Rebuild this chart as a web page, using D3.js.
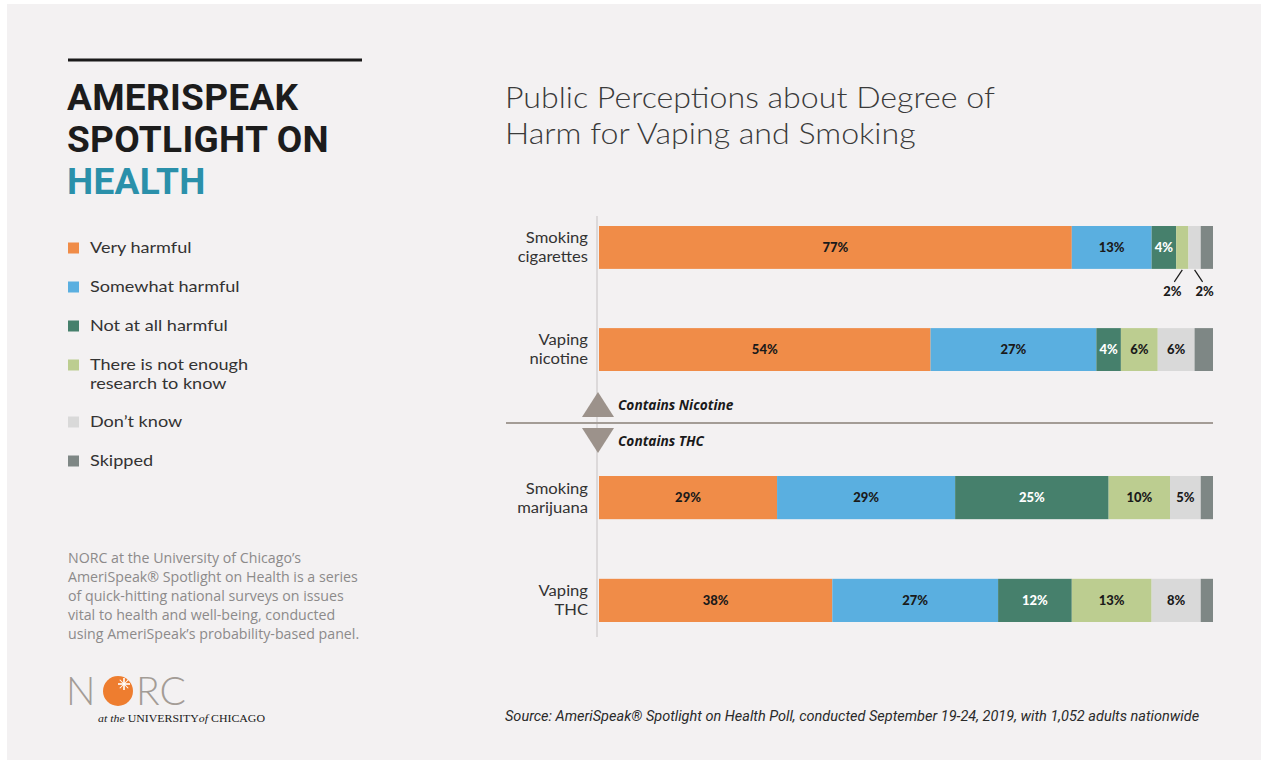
<!DOCTYPE html>
<html>
<head>
<meta charset="utf-8">
<script src="https://cdn.jsdelivr.net/npm/d3@7"></script>
<style>
  html, body { margin: 0; padding: 0; background: #ffffff; }
  svg { display: block; }
</style>
</head>
<body>
<svg id="chart" width="1261" height="760"></svg>
<script>
// ---------------- DATA ----------------
const categories = ["Smoking cigarettes", "Vaping nicotine", "Smoking marijuana", "Vaping THC"];
const categoryLines = [["Smoking", "cigarettes"], ["Vaping", "nicotine"], ["Smoking", "marijuana"], ["Vaping", "THC"]];
const categoryGroups = ["Contains Nicotine", "Contains Nicotine", "Contains THC", "Contains THC"];
const seriesNames = ["Very harmful", "Somewhat harmful", "Not at all harmful", "There is not enough research to know", "Don't know", "Skipped"];
const legendLines = [["Very harmful"], ["Somewhat harmful"], ["Not at all harmful"], ["There is not enough", "research to know"], ["Don\u2019t know"], ["Skipped"]];
const veryHarmful     = [77, 54, 29, 38];
const somewhatHarmful = [13, 27, 29, 27];
const notAtAllHarmful = [4, 4, 25, 12];
const notEnoughResearch = [2, 6, 10, 13];
const dontKnow        = [2, 6, 5, 8];
const skipped         = [2, 3, 2, 2];
const seriesColors = ["#f08c48", "#5aafe0", "#46806c", "#bccd90", "#d9d9d9", "#7e8785"];
const seriesValues = [veryHarmful, somewhatHarmful, notAtAllHarmful, notEnoughResearch, dontKnow, skipped];
const groupLabels = ["Contains Nicotine", "Contains THC"];

const title = ["Public Perceptions about Degree of", "Harm for Vaping and Smoking"];
const sideTitle = ["AMERISPEAK", "SPOTLIGHT ON", "HEALTH"];
const footnote = [
  "NORC at the University of Chicago\u2019s",
  "AmeriSpeak\u00AE Spotlight on Health is a series",
  "of quick-hitting national surveys on issues",
  "vital to health and well-being, conducted",
  "using AmeriSpeak\u2019s probability-based panel."
];
const source = "Source: AmeriSpeak\u00AE Spotlight on Health Poll, conducted September 19-24, 2019, with 1,052 adults nationwide";

// ---------------- SETUP ----------------
const svg = d3.select("#chart");
const SANS = "'Open Sans', Lato, sans-serif";
const LATO = "Lato, 'Open Sans', sans-serif";
const TEXT = "#333333";

// horizontally widened text group (wide grotesque look, compact line box)
function wideGroup(parent, x, s) {
  return parent.append("g").attr("transform", `translate(${x},0) scale(${s},1)`);
}

svg.append("rect").attr("x", 7).attr("y", 4).attr("width", 1254).attr("height", 756).attr("fill", "#f3f1f2");

// ---------- Left panel ----------
svg.append("line").attr("x1", 68).attr("x2", 362).attr("y1", 60).attr("y2", 60)
  .attr("stroke", "#1a1a1a").attr("stroke-width", 3);

svg.selectAll("text.side").data(sideTitle).join("text")
  .attr("class", "side")
  .attr("x", 67).attr("y", (d, i) => 110 + i * 42)
  .attr("font-family", "Roboto, sans-serif").attr("font-weight", 700).attr("font-size", 37)
  .attr("letter-spacing", 0.3)
  .attr("fill", (d, i) => i === 2 ? "#2a90aa" : "#1c1c1c")
  .text(d => d);

const legend = svg.append("g");
const legendY = [248, 287, 326, 365, 422, 461];
const legendText = wideGroup(svg, 90, 1.19);
legendLines.forEach((lines, i) => {
  legend.append("rect").attr("x", 68).attr("y", legendY[i] - 5.5).attr("width", 11).attr("height", 11)
    .attr("fill", seriesColors[i]);
  lines.forEach((l, j) => {
    legendText.append("text").attr("x", 0).attr("y", legendY[i] + j * 18.5).attr("dy", "0.35em")
      .attr("font-family", LATO).attr("font-size", 15.2).attr("fill", TEXT).text(l);
  });
});

const foot = svg.append("text")
  .attr("font-family", SANS).attr("font-size", 14.2).attr("fill", "#8c8a8a");
footnote.forEach((d, i) => {
  foot.append("tspan").attr("x", 68).attr("y", 558 + i * 19).attr("dy", "0.35em").text(d);
});

// NORC logo
const logo = svg.append("g");
logo.append("text").attr("x", 66).attr("y", 705)
  .attr("font-family", LATO).attr("font-weight", 300).attr("font-size", 39).attr("fill", "#a39c96").text("N");
logo.append("circle").attr("cx", 118).attr("cy", 691).attr("r", 15).attr("fill", "#ee7d2f");
const star = logo.append("g").attr("transform", "translate(124,684)");
[0, 45, 90, 135].forEach(a => {
  star.append("line").attr("x1", -6).attr("x2", 6).attr("y1", 0).attr("y2", 0)
    .attr("transform", `rotate(${a})`).attr("stroke", "#fff").attr("stroke-width", a % 90 === 0 ? 1.6 : 1);
});
logo.append("text").attr("x", 136).attr("y", 705)
  .attr("font-family", LATO).attr("font-weight", 300).attr("font-size", 39).attr("fill", "#a39c96").text("RC");
const uni = logo.append("text").attr("x", 98).attr("y", 722)
  .attr("font-family", "'Liberation Serif', 'DejaVu Serif', serif").attr("font-size", 10.5).attr("fill", "#1a1a1a")
  .attr("textLength", 167).attr("lengthAdjust", "spacingAndGlyphs");
uni.append("tspan").attr("font-style", "italic").text("at the ");
uni.append("tspan").text("UNIVERSITY");
uni.append("tspan").attr("font-style", "italic").text("of ");
uni.append("tspan").text("CHICAGO");

// ---------- Title ----------
const titleG = wideGroup(svg, 505, 1.09);
titleG.selectAll("text.title").data(title).join("text")
  .attr("class", "title")
  .attr("x", 0).attr("y", (d, i) => 108 + i * 36)
  .attr("font-family", LATO).attr("font-weight", 300).attr("font-size", 29.5).attr("fill", "#3a3a3a")
  .text(d => d);

// ---------- Scales ----------
const x = d3.scaleLinear().domain([0, 100]).range([599, 1213]);
const yNic = d3.scaleBand().domain(categories.slice(0, 2)).range([226, 371]).paddingInner(0.58);
const yThc = d3.scaleBand().domain(categories.slice(2, 4)).range([476, 622]).paddingInner(0.58);
const yOf = c => (categoryGroups[categories.indexOf(c)] === groupLabels[0] ? yNic : yThc);

// vertical axis line
svg.append("line").attr("x1", 597).attr("x2", 597).attr("y1", 216).attr("y2", 637)
  .attr("stroke", "#dcd9da").attr("stroke-width", 2);

// stacked data
const table = categories.map((c, i) => {
  const row = { category: c };
  seriesNames.forEach((s, k) => row[s] = seriesValues[k][i]);
  return row;
});
const stacked = d3.stack().keys(seriesNames)(table);

const barG = svg.append("g");
stacked.forEach((layer, k) => {
  barG.selectAll(null).data(layer).join("rect")
    .attr("x", d => x(d[0]))
    .attr("y", d => yOf(d.data.category)(d.data.category))
    .attr("width", d => x(d[1]) - x(d[0]))
    .attr("height", d => yOf(d.data.category).bandwidth())
    .attr("fill", seriesColors[k]);
});

// value labels
const labelG = svg.append("g").attr("font-family", LATO).attr("font-weight", 900).attr("font-size", 13);
stacked.forEach((layer, k) => {
  if (k === seriesNames.length - 1) return; // skipped: no label
  layer.forEach((d, i) => {
    const v = d[1] - d[0];
    const c = d.data.category;
    const ys = yOf(c);
    const top = ys(c), bw = ys.bandwidth();
    const cx = (x(d[0]) + x(d[1])) / 2;
    if (v >= 4) {
      labelG.append("text").attr("x", cx).attr("y", top + bw / 2).attr("dy", "0.35em")
        .attr("text-anchor", "middle").attr("fill", k === 2 ? "#ffffff" : "#1a1a1a")
        .text(v + "%");
    } else {
      const dir = k === 3 ? -1 : 1;
      labelG.append("line").attr("x1", cx).attr("y1", top + bw + 1)
        .attr("x2", cx + dir * 8).attr("y2", top + bw + 13)
        .attr("stroke", "#1a1a1a").attr("stroke-width", 1.2);
      labelG.append("text").attr("x", cx + dir * 10).attr("y", top + bw + 23).attr("dy", "0.35em")
        .attr("text-anchor", "middle").attr("fill", "#1a1a1a").text(v + "%");
    }
  });
});

// category labels
const catG = wideGroup(svg, 588, 1.07).attr("font-family", LATO).attr("font-size", 15.5)
  .attr("fill", TEXT).attr("text-anchor", "end");
categories.forEach((c, i) => {
  const ys = yOf(c);
  const cy = ys(c) + ys.bandwidth() / 2;
  categoryLines[i].forEach((l, j) => {
    catG.append("text").attr("x", 0).attr("y", cy - 9.5 + j * 19).attr("dy", "0.35em").text(l);
  });
});

// divider
const divY = (yNic.range()[1] + yThc.range()[0]) / 2 - 0.5;
svg.append("line").attr("x1", 506).attr("x2", 1213).attr("y1", divY).attr("y2", divY)
  .attr("stroke", "#a39c96").attr("stroke-width", 2);
const triColor = "#9c928b";
svg.append("path").attr("d", `M582,${divY - 6} L614,${divY - 6} L598,${divY - 31} Z`).attr("fill", triColor);
svg.append("path").attr("d", `M582,${divY + 5} L614,${divY + 5} L598,${divY + 30} Z`).attr("fill", triColor);
svg.selectAll("text.grp").data(groupLabels).join("text")
  .attr("class", "grp")
  .attr("x", 618).attr("y", (d, i) => i === 0 ? divY - 18 : divY + 18).attr("dy", "0.35em")
  .attr("font-family", SANS).attr("font-style", "italic").attr("font-weight", 700).attr("font-size", 13.7)
  .attr("fill", "#1a1a1a").text(d => d);

// source
svg.append("text").attr("x", 505).attr("y", 716).attr("dy", "0.35em")
  .attr("font-family", "Roboto, sans-serif").attr("font-style", "italic").attr("font-size", 14.5)
  .attr("fill", "#2a2a2a").text(source);
</script>
</body>
</html>
